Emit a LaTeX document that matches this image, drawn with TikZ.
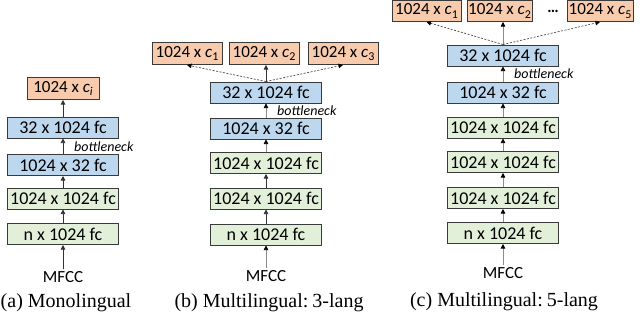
\documentclass[tikz,border=0pt]{standalone}
\usepackage{fontspec}
\setmainfont{Liberation Serif}
\newfontfamily\carl{Carlito}
\usetikzlibrary{arrows.meta}
\definecolor{orfill}{HTML}{F8CBAD}
\definecolor{blfill}{HTML}{BDD7EE}
\definecolor{grfill}{HTML}{E2F0D9}
\definecolor{bord}{HTML}{3A3A3A}
\newcommand{\cvar}[1]{{\itshape c}\raisebox{-0.22em}{\fontsize{12}{12}\selectfont #1}}
\tikzset{
  layer/.style={draw=bord, line width=1pt, minimum height=21pt, minimum width=111pt, inner sep=0pt,
    font=\carl\fontsize{18}{18}\selectfont},
  grn/.style={layer, fill=grfill},
  blu/.style={layer, fill=blfill},
  outb/.style={layer, fill=orfill, minimum height=22pt, font=\carl\fontsize{17}{17}\selectfont},
  lbl/.style={font=\carl\fontsize{17}{17}\selectfont, inner sep=2pt},
  bneck/.style={font=\carl\itshape\fontsize{14}{14}\selectfont, anchor=west, inner sep=0pt},
  captxt/.style={font=\fontsize{20}{20}\selectfont, inner sep=0pt},
  arr/.style={draw=black!80, line width=0.7pt, -{Triangle[length=4.5pt,width=4.5pt]}},
  farr/.style={draw=black!45, line width=0.7pt, -{Triangle[length=4.5pt,width=4.5pt,color=black,fill=black]}},
  darr/.style={draw=black!70, line width=0.7pt, dash pattern=on 2pt off 1.5pt, -{Triangle[length=4.5pt,width=4.5pt,color=black,fill=black]}}
}
\begin{document}
\begin{tikzpicture}[x=1pt,y=-1pt]
\useasboundingbox (0,0) rectangle (640,314);
% ---------------- (a)
\node[outb, minimum width=72pt] (ac) at (63,88.5) {1024 x \cvar{\itshape i}};
\node[blu] (a4) at (63,127.5) {32 x 1024 fc};
\node[blu] (a3) at (63,165) {1024 x 32 fc};
\node[grn] (a2) at (63,198.5) {1024 x 1024 fc};
\node[grn] (a1) at (63,234) {n x 1024 fc};
\node[lbl] (am) at (63,277) {MFCC};
\node[bneck] (ab) at (74,146.5) {bottleneck};
\node[captxt] (acap) at (66,303) {(a) Monolingual};
\draw[arr] (am) -- (a1);
\draw[arr] (a1) -- (a2);
\draw[arr] (a2) -- (a3);
\draw[arr] (a3) -- (a4);
\draw[arr] (a4) -- (ac);
% ---------------- (b)
\node[outb, minimum width=70pt] (bc1) at (187,53.5) {1024 x \cvar{1}};
\node[outb, minimum width=70pt] (bc2) at (264,53.5) {1024 x \cvar{2}};
\node[outb, minimum width=70pt] (bc3) at (343,53.5) {1024 x \cvar{3}};
\node[blu] (b5) at (266,92.5) {32 x 1024 fc};
\node[blu] (b4) at (266,128.5) {1024 x 32 fc};
\node[grn] (b3) at (266,163) {1024 x 1024 fc};
\node[grn] (b2) at (266,198.5) {1024 x 1024 fc};
\node[grn] (b1) at (266,234.5) {n x 1024 fc};
\node[lbl] (bm) at (266,276) {MFCC};
\node[bneck] (bb) at (277,110.5) {bottleneck};
\node[captxt] (bcap) at (269,303) {(b) Multilingual:\kern-1pt\ 3-lang};
\draw[farr] (bm) -- (b1);
\draw[arr] (b1) -- (b2);
\draw[arr] (b2) -- (b3);
\draw[farr] (b3) -- (b4);
\draw[farr] (b4) -- (b5);
\draw[arr] (b5.north) -- (b5.north |- bc2.south);
\draw[darr] (b5.north) -- (bc1.south);
\draw[darr] (b5.north) -- (bc3.south);
% ---------------- (c)
\node[outb, minimum width=69pt, minimum height=21pt] (cc1) at (426.5,11) {1024 x \cvar{1}};
\node[outb, minimum width=65pt, minimum height=21pt] (cc2) at (499.5,11) {1024 x \cvar{2}};
\node[lbl, font=\carl\bfseries\fontsize{16}{16}\selectfont] (cdots) at (553,11) {…};
\node[outb, minimum width=66pt, minimum height=21pt] (cc5) at (600,11) {1024 x \cvar{5}};
\node[blu] (c7) at (503,55.5) {32 x 1024 fc};
\node[blu] (c6) at (503,92.5) {1024 x 32 fc};
\node[grn] (c5) at (503,127.5) {1024 x 1024 fc};
\node[grn] (c4) at (503,162) {1024 x 1024 fc};
\node[grn] (c3) at (503,198) {1024 x 1024 fc};
\node[grn] (c1) at (503,233) {n x 1024 fc};
\node[lbl] (cm) at (503,273) {MFCC};
\node[bneck] (cb) at (514,74) {bottleneck};
\node[captxt] (ccap) at (504,302) {(c) Multilingual:\kern-1pt\ 5-lang};
\draw[farr] (cm) -- (c1);
\draw[farr] (c1) -- (c3);
\draw[farr] (c3) -- (c4);
\draw[farr] (c4) -- (c5);
\draw[farr] (c5) -- (c6);
\draw[farr] (c6) -- (c7);
\draw[farr] (c7.north) -- (c7.north |- cc2.south);
\draw[darr] (c7.north) -- (cc1.south);
\draw[darr] (c7.north) -- (cc5.south);
\end{tikzpicture}
\end{document}
